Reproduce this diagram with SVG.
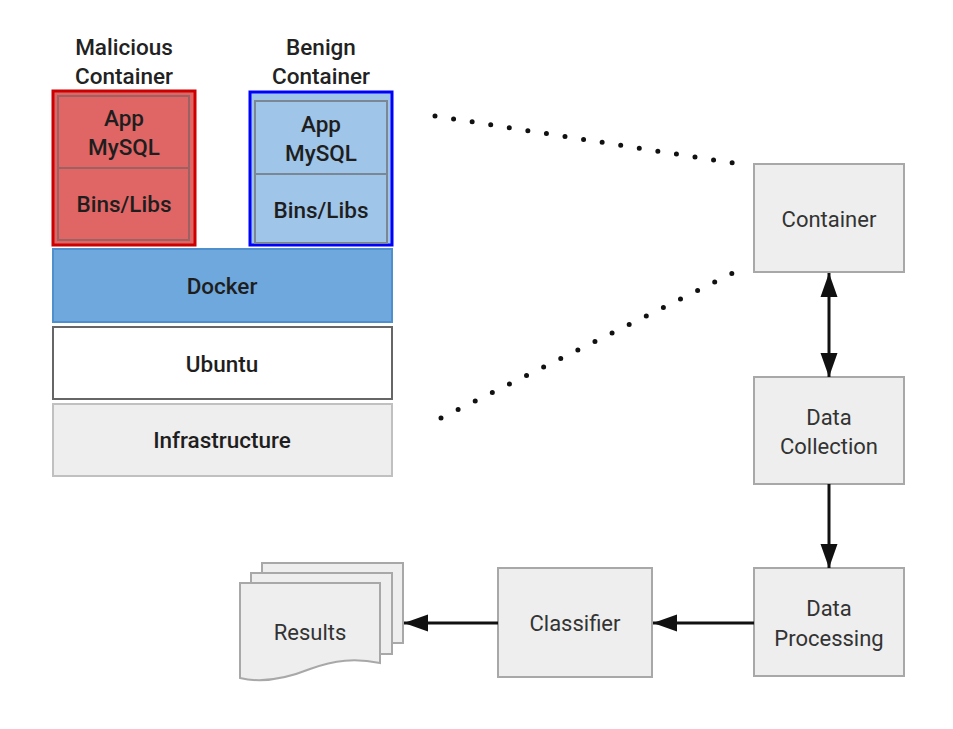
<svg xmlns="http://www.w3.org/2000/svg" width="953" height="729" viewBox="0 0 953 729">
<defs>
<style>
.lbl{font-family:Roboto,"Liberation Sans",sans-serif;font-size:22.5px;fill:#1e1e1e;text-anchor:middle;dominant-baseline:central;font-weight:500}
.hd{font-family:Roboto,"Liberation Sans",sans-serif;font-size:22.5px;fill:#222;text-anchor:middle;dominant-baseline:central;font-weight:500}
.rt{font-family:Roboto,"Liberation Sans",sans-serif;font-size:22px;fill:#333;text-anchor:middle;dominant-baseline:central}
.gbox{fill:#eeeeee;stroke:#a8a8a8;stroke-width:2}
.conn{stroke:#111;stroke-width:3;fill:none}
.dots{stroke:#111;stroke-width:5;stroke-linecap:round;fill:none}
</style>
<marker id="ah" markerUnits="userSpaceOnUse" markerWidth="26" markerHeight="18" refX="24" refY="8.5" orient="auto-start-reverse" viewBox="0 0 26 17">
<path d="M0,0 L24,8.5 L0,17 Z" fill="#111"/>
</marker>
</defs>
<rect width="953" height="729" fill="#ffffff"/>

<g id="malicious-container">
<text class="hd" x="124" y="47">Malicious</text>
<text class="hd" x="124" y="76">Container</text>
<rect x="53" y="91" width="142" height="154" fill="#e06666" stroke="#cc0000" stroke-width="3"/>
<rect x="58" y="96" width="131" height="72" fill="#e06666" stroke="#9a6262" stroke-width="2"/>
<rect x="58" y="168" width="131" height="72" fill="#e06666" stroke="#9a6262" stroke-width="2"/>
<text class="lbl" x="124" y="118">App</text>
<text class="lbl" x="124" y="147">MySQL</text>
<text class="lbl" x="124" y="204">Bins/Libs</text>
</g>

<g id="benign-container">
<text class="hd" x="321" y="47">Benign</text>
<text class="hd" x="321" y="76">Container</text>
<rect x="250" y="92" width="142" height="153" fill="#9fc5e8" stroke="#0000ff" stroke-width="3"/>
<rect x="255" y="101" width="132" height="73" fill="#9fc5e8" stroke="#7b8794" stroke-width="2"/>
<rect x="255" y="174" width="132" height="69" fill="#9fc5e8" stroke="#7b8794" stroke-width="2"/>
<text class="lbl" x="321" y="124">App</text>
<text class="lbl" x="321" y="153">MySQL</text>
<text class="lbl" x="321" y="210">Bins/Libs</text>
</g>

<g id="docker">
<rect x="53" y="249" width="339" height="73" fill="#6fa8dc" stroke="#4f90cc" stroke-width="2"/>
<text class="lbl" x="222" y="286">Docker</text>
</g>
<g id="ubuntu">
<rect x="53" y="327" width="339" height="72" fill="#ffffff" stroke="#666666" stroke-width="2"/>
<text class="lbl" x="222" y="364">Ubuntu</text>
</g>
<g id="infrastructure">
<rect x="53" y="404" width="339" height="72" fill="#eeeeee" stroke="#c0c0c0" stroke-width="2"/>
<text class="lbl" x="222" y="440">Infrastructure</text>
</g>

<g id="container">
<rect class="gbox" x="754" y="164" width="150" height="108"/>
<text class="rt" x="829" y="219">Container</text>
</g>
<g id="data-collection">
<rect class="gbox" x="754" y="377" width="150" height="107"/>
<text class="rt" x="829" y="417">Data</text>
<text class="rt" x="829" y="446">Collection</text>
</g>
<g id="data-processing">
<rect class="gbox" x="754" y="568" width="150" height="108"/>
<text class="rt" x="829" y="608">Data</text>
<text class="rt" x="829" y="638">Processing</text>
</g>
<g id="classifier">
<rect class="gbox" x="498" y="568" width="154" height="109"/>
<text class="rt" x="575" y="623">Classifier</text>
</g>
<g id="results">
<path class="gbox" d="M262,563 H403 V643 H392 V573 H262 Z"/>
<path class="gbox" d="M251,573 H392 V654 H380 V583 H251 Z"/>
<path class="gbox" d="M240,583 H380 V663 C355,658 335,660 310,669 C290,677 265,684 240,678 Z"/>
<text class="rt" x="310" y="632">Results</text>
</g>

<g id="connectors">
<line class="dots" x1="435" y1="116" x2="733" y2="163" stroke-dasharray="0 18.8"/>
<line class="dots" x1="441" y1="418" x2="733" y2="273" stroke-dasharray="0 19.1"/>
<line class="conn" x1="829" y1="273" x2="829" y2="377" marker-start="url(#ah)" marker-end="url(#ah)"/>
<line class="conn" x1="829" y1="484" x2="829" y2="568" marker-end="url(#ah)"/>
<line class="conn" x1="754" y1="623" x2="653" y2="623" marker-end="url(#ah)"/>
<line class="conn" x1="498" y1="623" x2="404" y2="623" marker-end="url(#ah)"/>
</g>
</svg>
